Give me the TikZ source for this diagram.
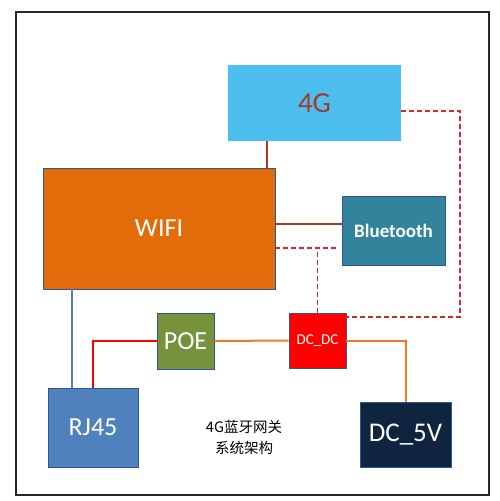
\documentclass[tikz,border=0pt]{standalone}
\usepackage{fontspec}
\setmainfont{Carlito}
\newfontfamily\cjk{Noto Sans CJK SC}
\usepackage{tikz}
\usetikzlibrary{positioning,
				calc}

\definecolor{sky4g}{HTML}{4DBFEF}
\definecolor{text4g}{HTML}{A33A2C}
\definecolor{wifiorange}{HTML}{E36C0A}
\definecolor{btteal}{HTML}{31849B}
\definecolor{poegreen}{HTML}{76923C}
\definecolor{rjblue}{HTML}{4F81BD}
\definecolor{dcnavy}{HTML}{0F243E}
\definecolor{edgeblue}{HTML}{2F5597}
\definecolor{wirered}{HTML}{B5352A}
\definecolor{wireorange}{HTML}{F07A22}
\definecolor{dashred}{HTML}{E02328}

\tikzset{
	block/.style={draw=edgeblue, line width=.8pt, inner sep=0pt, text=white},
	wire/.style={line width=2pt},
	dashwire/.style={wire, dashred, line width=1.8pt, dash pattern=on 5pt off 3pt}
}

\begin{document}
\begin{tikzpicture}[x=1pt,y=-1pt]
		\useasboundingbox (0,0) rectangle (500,501);
		% outer frame
		\draw[line width=2.6pt, black!85] (16,12) rectangle (489,495);

		% blocks
		\node[block, draw=none, fill=sky4g, minimum width=173pt, minimum height=76pt,
			text=text4g, font=\fontsize{29}{32}\selectfont] (lte) at (314.5,103) {4G};
		\node[block, fill=wifiorange, minimum width=232pt, minimum height=121pt,
			font=\fontsize{26}{30}\selectfont] (wifi) at (159,228.5) {WIFI};
		\node[block, fill=btteal, minimum width=103pt, minimum height=69pt,
			font=\fontsize{19}{21}\selectfont\bfseries] (bt) at (393.5,230.5) {Bluetooth};
		\node[block, fill=red, minimum width=57pt, minimum height=55pt,
			font=\fontsize{15}{17}\selectfont] (dcdc) at (317.5,340.5) {DC\_DC};
		\node[block, fill=poegreen, minimum width=57pt, minimum height=56pt,
			font=\fontsize{26}{29}\selectfont] (poe) at (185.5,341) {POE};
		\node[block, fill=rjblue, minimum width=90pt, minimum height=79pt,
			font=\fontsize{26}{29}\selectfont] (rj) at (93,427.5) {RJ45};
		\node[block, fill=dcnavy, minimum width=91pt, minimum height=65pt,
			font=\fontsize{27}{30}\selectfont] (dcv) at (405.5,434.5) {DC\_5V};
		\node[align=center, font=\cjk\fontsize{14.5}{21}\selectfont] (title) at (244,437) {4G蓝牙网关\\系统架构};

		% wiring points
		\coordinate (ltetap) at (267,0);
		\coordinate (rjtap) at (72,0);
		\coordinate (btsolid) at (0,224);
		\coordinate (btdash) at (0,248);
		\coordinate (loopa) at (460,111);
		\coordinate (loopb) at (460,317);

		% links
		\draw[wire, wirered, line width=1.6pt] (lte.south -| ltetap) -- (wifi.north -| ltetap);
		\draw[wire, wirered, line width=1.6pt] (wifi.east |- btsolid) -- (bt.west |- btsolid);
		\draw[dashwire, shorten >=5pt] (wifi.east |- btdash) -- (bt.west |- btdash);
		\draw[dashwire] (dcdc.north) -- (dcdc.north |- btdash);
		\draw[dashwire] (lte.east |- loopa) -- (loopa) -- (loopb) -- (dcdc.east |- loopb);
		\draw[rjblue, line width=1.5pt] (wifi.south -| rjtap) -- (rj.north -| rjtap);
		\draw[wire, red, line width=2.4pt] (rj.north) |- (poe.west);
		\draw[wire, wireorange] (poe.east) -- (dcdc.west);
		\draw[wire, wireorange] (dcdc.east) -| (dcv.north);
\end{tikzpicture}
\end{document}
